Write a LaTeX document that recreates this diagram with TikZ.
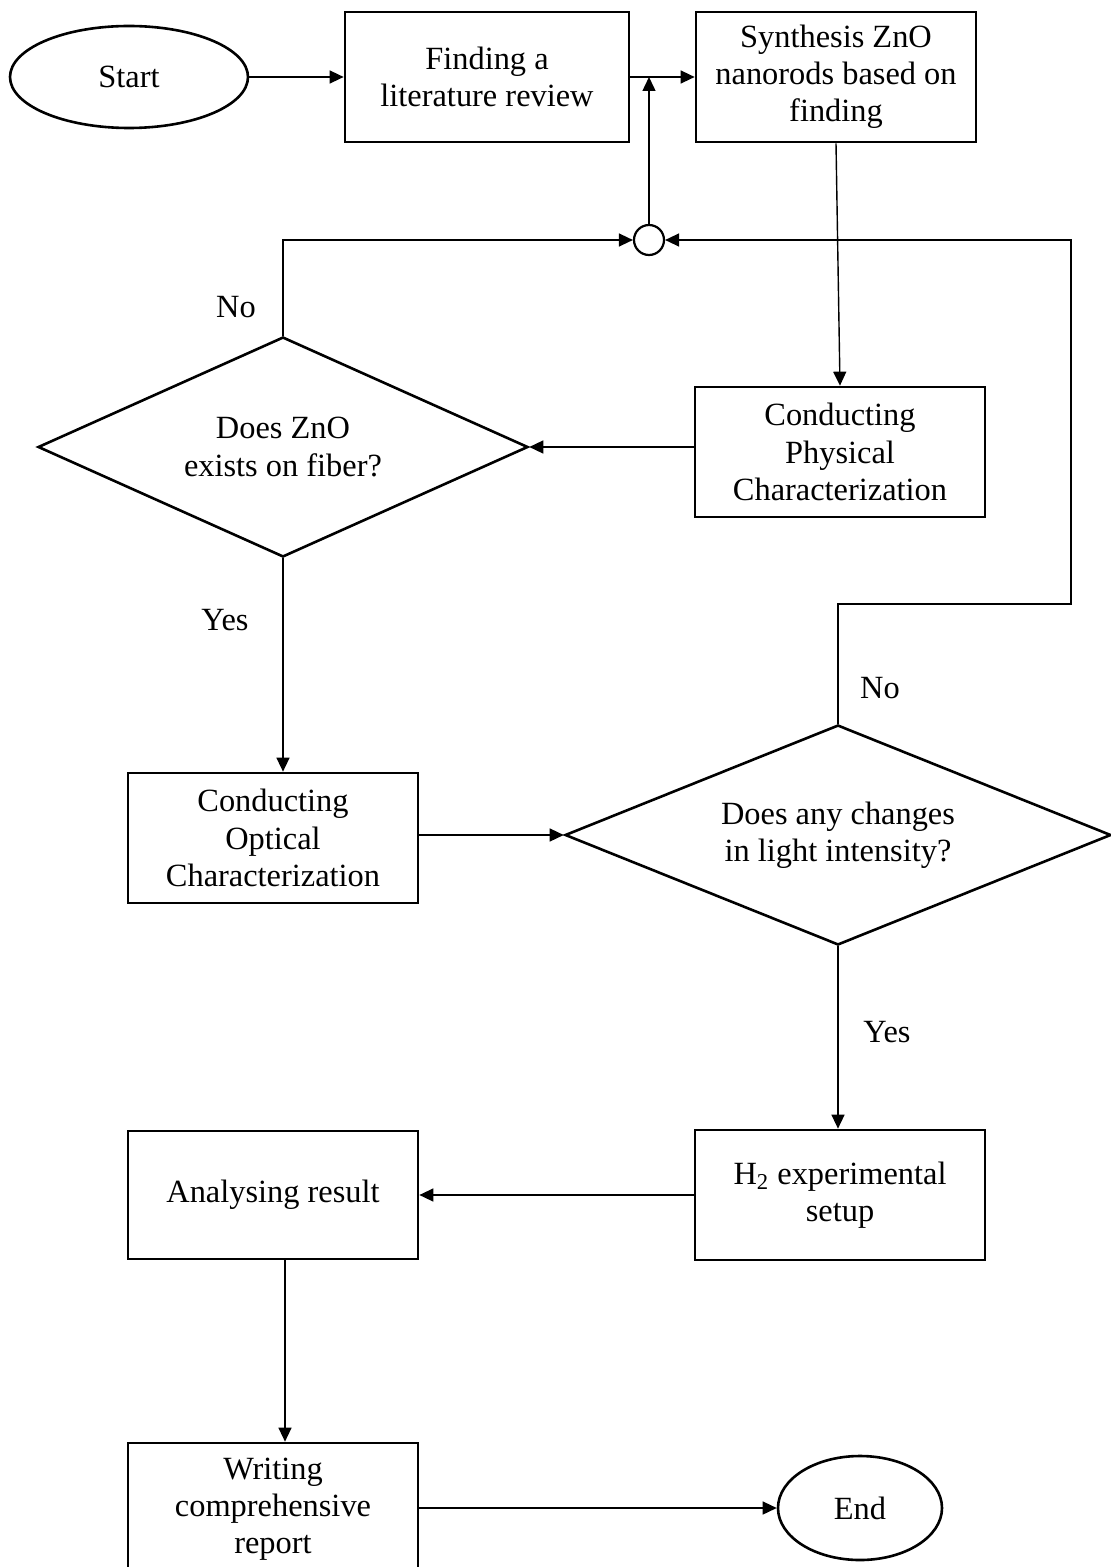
\documentclass[tikz,border=0pt]{standalone}
\usepackage{fontspec}
\setmainfont{Liberation Serif}
\usetikzlibrary{shapes.geometric,arrows.meta}

\begin{document}
\begin{tikzpicture}[x=0.5pt, y=-0.5pt,
    every node/.style={font=\fontsize{16.2}{18.6}\selectfont, align=center},
    term/.style={ellipse, draw, line width=1.3pt, inner sep=0pt},
    proc/.style={rectangle, draw, line width=1.35pt, minimum width=145pt, inner sep=2pt},
    ask/.style={diamond, draw, line width=1.3pt, aspect=2.2, inner sep=0pt},
    flow/.style={->, >={Triangle[length=7pt, width=6.5pt]}, line width=0.7pt}]
    \useasboundingbox (0,0) rectangle (1111,1567);
    \node (start) at (129,77) [term, minimum width=119pt, minimum height=51pt] {Start};
    \node (find) at (487,77) [proc, minimum width=142pt, minimum height=65pt] {Finding a\\literature review};
    \node (synth) at (836,77) [proc, minimum width=140pt, minimum height=65pt] {Synthesis ZnO\\nanorods based on\\finding};
    \node (join) at (649,240) [circle, draw, line width=1.1pt, minimum size=15pt, inner sep=0pt] {};
    \node (phys) at (840,452) [proc, minimum height=65pt] {Conducting\\Physical\\Characterization};
    \node (q1) at (283,447) [ask, minimum width=245pt, minimum height=110pt] {Does ZnO\\exists on fiber?};
    \node (opt) at (273,838) [proc, minimum height=65pt] {Conducting\\Optical\\Characterization};
    \node (q2) at (838,835) [ask, minimum width=273pt, minimum height=110pt] {Does any changes\\in light intensity?};
    \node (setup) at (840,1195) [proc, minimum height=65pt] {H\textsubscript{2} experimental\\setup};
    \node (result) at (273,1195) [proc, minimum height=64pt] {Analysing result};
    \node (report) at (273,1509) [proc, minimum height=66pt] {Writing\\comprehensive\\report};
    \node (end) at (860,1508) [term, minimum width=82pt, minimum height=52pt] {End};
    \coordinate (turn) at (1071,604);
    % labels
    \node (no1) at (236,307) {No};
    \node (yes1) at (225,620) {Yes};
    \node (no2) at (880,688) {No};
    \node (yes2) at (887,1032) {Yes};
    % connectors
    \draw [flow] (start) -- (find);
    \draw [flow] (find) -- (synth);
    \draw [flow] (join.north) -- (join.north |- find.east);
    \draw [flow] (q1.north) |- (join.west);
    \draw [flow] (q2.north) |- (turn) |- (join.east);
    \draw [flow] (synth.south) -- (phys.north);
    \draw [flow] (phys.west |- q1.east) -- (q1.east);
    \draw [flow] (q1.south) -- (q1.south |- opt.north);
    \draw [flow] (opt.east |- q2.west) -- (q2.west);
    \draw [flow] (q2.south) -- (q2.south |- setup.north);
    \draw [flow] (setup) -- (result);
    \draw [flow] ([xshift=6pt]result.south) -- ([xshift=6pt]report.north);
    \draw [flow] (report.east |- end.west) -- (end.west);
\end{tikzpicture}
\end{document}
